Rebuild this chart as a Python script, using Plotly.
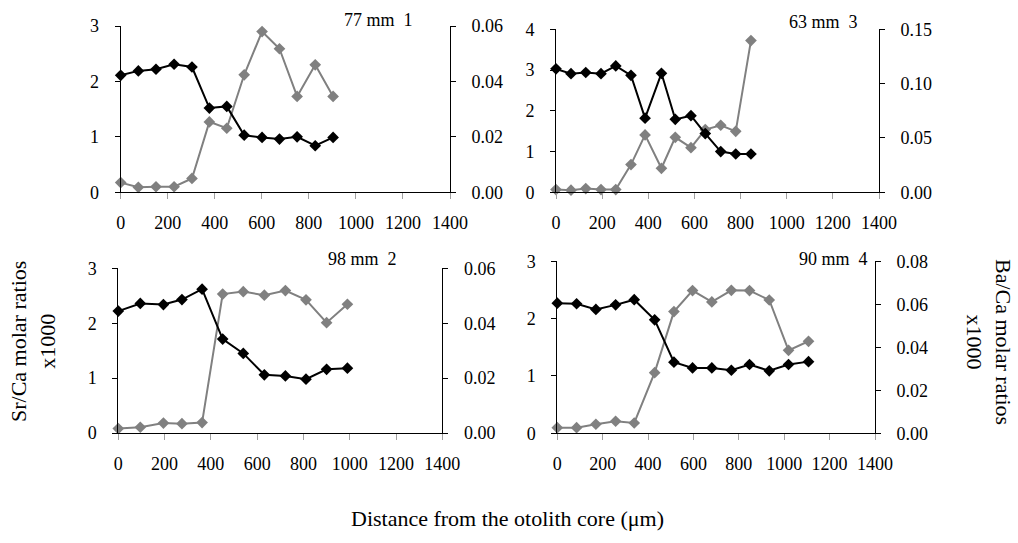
import plotly.graph_objects as go

# Sr/Ca and Ba/Ca molar ratios (x1000) along otolith transects
dist_1 = [0, 75, 150, 227, 303, 377, 451, 525, 601, 675, 750, 827, 903]
sr_1 = [2.11, 2.19, 2.22, 2.31, 2.26, 1.52, 1.55, 1.03, 0.99, 0.96, 1.00, 0.84, 0.99]
ba_1 = [0.0035, 0.0018, 0.0020, 0.0020, 0.0050, 0.0254, 0.0231, 0.0424, 0.0580,
        0.0518, 0.0346, 0.0460, 0.0346]

dist_2 = [0, 95, 195, 275, 362, 451, 540, 631, 722, 811, 900, 990]
sr_2 = [2.22, 2.36, 2.34, 2.43, 2.62, 1.71, 1.45, 1.06, 1.04, 0.98, 1.16, 1.18]
ba_2 = [0.0016, 0.0021, 0.0036, 0.0034, 0.0038, 0.0506, 0.0515, 0.0502, 0.0519,
        0.0485, 0.0402, 0.0469]

dist_3 = [0, 65, 129, 195, 259, 325, 386, 457, 517, 585, 647, 714, 779, 845]
sr_3 = [3.03, 2.91, 2.94, 2.91, 3.10, 2.87, 1.82, 2.92, 1.79, 1.88, 1.44, 1.00, 0.94, 0.94]
ba_3 = [0.0025, 0.0020, 0.0034, 0.0025, 0.0025, 0.0255, 0.0528, 0.0221, 0.0506,
        0.0411, 0.0577, 0.0617, 0.0561, 0.1396]

dist_4 = [0, 85, 170, 257, 339, 429, 514, 596, 681, 767, 847, 934, 1019, 1107]
sr_4 = [2.27, 2.26, 2.16, 2.24, 2.33, 1.98, 1.24, 1.14, 1.14, 1.10, 1.20, 1.09, 1.20, 1.25]
ba_4 = [0.0026, 0.0026, 0.0042, 0.0056, 0.0048, 0.0282, 0.0566, 0.0664, 0.0611,
        0.0665, 0.0664, 0.0620, 0.0386, 0.0428]

fish_labels = ["77 mm  1", "98 mm  2", "63 mm  3", "90 mm  4"]
sr_ranges = [[0, 3], [0, 3], [0, 4], [0, 3]]
sr_dticks = [1, 1, 1, 1]
ba_ranges = [[0, 0.06], [0, 0.06], [0, 0.15], [0, 0.08]]
ba_dticks = [0.02, 0.02, 0.05, 0.02]
x_ticks = [0, 200, 400, 600, 800, 1000, 1200, 1400]

W, H = 1018, 543
# plot areas in pixels: (left, right, top, bottom)
boxes = [
    (120.7, 450.0, 26.0, 192.3),
    (118.3, 442.3, 268.3, 433.0),
    (556.0, 879.0, 29.3, 192.3),
    (557.3, 875.0, 261.3, 433.3),
]
# panel label anchors in pixels: (right edge, top edge)
label_pos = [(415, 8), (399, 247), (860, 10), (870, 247)]

panels = [(dist_1, sr_1, ba_1), (dist_2, sr_2, ba_2),
          (dist_3, sr_3, ba_3), (dist_4, sr_4, ba_4)]

FONT = "Liberation Serif, Times New Roman, serif"
BLACK = "#000000"
GREY = "#808080"
TICKFONT = dict(family=FONT, size=18, color="black")

fig = go.Figure()
layout = dict(
    width=W, height=H,
    margin=dict(l=0, r=0, t=0, b=0, autoexpand=False),
    paper_bgcolor="white", plot_bgcolor="white",
    showlegend=False,
    font=dict(family=FONT, size=18, color="black"),
)

annotations = []
for i, ((d, sr, ba), (l, r, t, b)) in enumerate(zip(panels, boxes)):
    k = i + 1
    xa = "x" if k == 1 else f"x{k}"
    ya_ba = "y" if k == 1 else f"y{k}"
    ya_sr = f"y{k + 4}"
    xdom = [l / W, r / W]
    ydom = [1 - b / H, 1 - t / H]

    layout[f"xaxis{'' if k == 1 else k}"] = dict(
        domain=xdom, anchor=ya_ba, range=[0, 1400], automargin=False,
        tickvals=x_ticks, ticks="outside", ticklen=6, tickcolor="#a0a0a0",
        ticklabelstandoff=8,
        showline=True, linecolor=BLACK, linewidth=1,
        showgrid=False, zeroline=False, tickfont=TICKFONT,
    )
    # Ba/Ca on the right-hand axis
    layout[f"yaxis{'' if k == 1 else k}"] = dict(
        domain=ydom, anchor=xa, side="right", range=ba_ranges[i],
        automargin=False,
        dtick=ba_dticks[i], tick0=0, tickformat=".2f",
        ticks="outside", ticklen=5, tickcolor=BLACK, ticklabelstandoff=12,
        showline=True, linecolor=BLACK, linewidth=1,
        showgrid=False, zeroline=False, tickfont=TICKFONT,
    )
    # Sr/Ca on the left-hand axis, overlaid so its series sits on top
    layout[f"yaxis{k + 4}"] = dict(
        overlaying=ya_ba, anchor=xa, side="left", range=sr_ranges[i],
        automargin=False,
        dtick=sr_dticks[i], tick0=0,
        ticks="outside", ticklen=5, tickcolor=BLACK, ticklabelstandoff=12,
        showline=True, linecolor=BLACK, linewidth=1,
        showgrid=False, zeroline=False, tickfont=TICKFONT,
    )

    fig.add_trace(go.Scatter(
        x=d, y=ba, xaxis=xa, yaxis=ya_ba, mode="lines+markers",
        line=dict(color=GREY, width=2),
        marker=dict(symbol="diamond", size=9, color=GREY),
        cliponaxis=False, name="Ba/Ca",
    ))
    fig.add_trace(go.Scatter(
        x=d, y=sr, xaxis=xa, yaxis=ya_sr, mode="lines+markers",
        line=dict(color=BLACK, width=2),
        marker=dict(symbol="diamond", size=9, color=BLACK),
        cliponaxis=False, name="Sr/Ca",
    ))

    lx, ly = label_pos[i]
    annotations.append(dict(
        text=fish_labels[i], xref="paper", yref="paper",
        x=lx / W, y=1 - ly / H,
        xanchor="right", yanchor="top", showarrow=False,
        font=dict(family=FONT, size=18, color="black"),
    ))

annotations += [
    dict(text="Sr/Ca molar ratios<br>x1000", xref="paper", yref="paper",
         x=33 / W, y=1 - 342 / H, xanchor="center", yanchor="middle",
         textangle=-90, showarrow=False,
         font=dict(family=FONT, size=22, color="black")),
    dict(text="Ba/Ca molar ratios<br>x1000", xref="paper", yref="paper",
         x=989 / W, y=1 - 342 / H, xanchor="center", yanchor="middle",
         textangle=90, showarrow=False,
         font=dict(family=FONT, size=22, color="black")),
    dict(text="Distance from the otolith core (μm)", xref="paper", yref="paper",
         x=507 / W, y=1 - 518 / H, xanchor="center", yanchor="middle",
         showarrow=False, font=dict(family=FONT, size=22, color="black")),
]
layout["annotations"] = annotations
fig.update_layout(**layout)
fig.write_html("out.html")
